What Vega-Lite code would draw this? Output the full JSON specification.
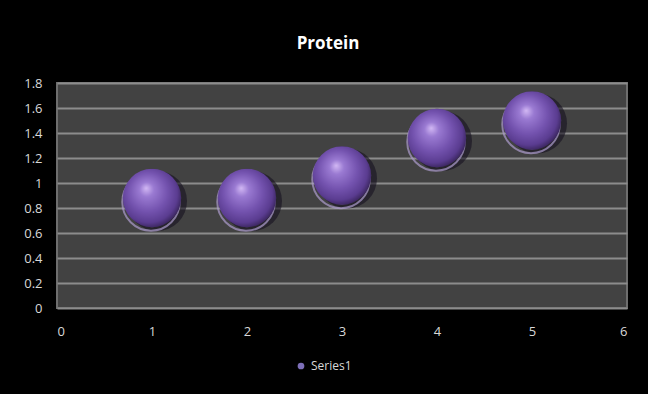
{
  "$schema": "https://vega.github.io/schema/vega-lite/v6.json",
  "width": 570,
  "height": 225,
  "autosize": {"type": "none"},
  "padding": {"left": 57, "top": 83, "right": 21, "bottom": 86},
  "background": "#000000",
  "title": {
    "text": "Protein",
    "color": "#ffffff",
    "font": "Open Sans",
    "fontWeight": "bold",
    "fontSize": 17,
    "anchor": "middle",
    "dx": -14,
    "offset": 24
  },
  "config": {
    "view": {"fill": "#424242", "stroke": "#6e6e6e", "strokeWidth": 2},
    "axis": {
      "labelColor": "#d8d8d8",
      "labelFont": "Open Sans",
      "labelFontSize": 13,
      "ticks": false,
      "domain": false,
      "title": null
    }
  },
  "data": {
    "values": [
      {"x": 1, "y": 0.88, "series": "Series1"},
      {"x": 2, "y": 0.88, "series": "Series1"},
      {"x": 3, "y": 1.06, "series": "Series1"},
      {"x": 4, "y": 1.36, "series": "Series1"},
      {"x": 5, "y": 1.5, "series": "Series1"}
    ]
  },
  "encoding": {
    "x": {
      "field": "x",
      "type": "quantitative",
      "scale": {"domain": [0, 6], "nice": false},
      "axis": {"values": [0, 1, 2, 3, 4, 5, 6], "format": "d", "grid": false, "labelPadding": 17}
    },
    "y": {
      "field": "y",
      "type": "quantitative",
      "scale": {"domain": [0, 1.8], "nice": false},
      "axis": {
        "values": [0, 0.2, 0.4, 0.6, 0.8, 1, 1.2, 1.4, 1.6, 1.8],
        "format": "~g",
        "grid": true,
        "gridColor": "#8c8c8c",
        "gridWidth": 2,
        "labelPadding": 15
      }
    }
  },
  "layer": [
    {
      "mark": {"type": "point", "shape": "circle", "filled": true, "size": 3600, "fill": "#15101f", "opacity": 0.6, "xOffset": 5, "yOffset": 3}
    },
    {
      "mark": {"type": "point", "shape": "circle", "filled": false, "size": 3300, "stroke": "#ae9dce", "strokeWidth": 2, "opacity": 0.7, "xOffset": -1, "yOffset": 4}
    },
    {
      "mark": {
        "type": "point",
        "shape": "circle",
        "filled": true,
        "size": 3400,
        "opacity": 1,
        "fill": {
          "gradient": "radial",
          "x1": 0.4, "y1": 0.33, "r1": 0,
          "x2": 0.45, "y2": 0.45, "r2": 0.62,
          "stops": [
            {"offset": 0, "color": "#d2b8f4"},
            {"offset": 0.2, "color": "#9a7ad2"},
            {"offset": 0.55, "color": "#7352ae"},
            {"offset": 0.8, "color": "#5a3c90"},
            {"offset": 1, "color": "#2a1a44"}
          ]
        }
      },
      "encoding": {
        "color": {
          "field": "series",
          "type": "nominal",
          "scale": {"range": ["#7d6fb8"]},
          "legend": {
            "title": null,
            "orient": "none",
            "legendX": 238,
            "legendY": 277,
            "symbolType": "circle",
            "symbolSize": 45,
            "labelColor": "#d8d8d8",
            "labelFont": "Open Sans",
            "labelFontSize": 12
          }
        }
      }
    }
  ]
}
